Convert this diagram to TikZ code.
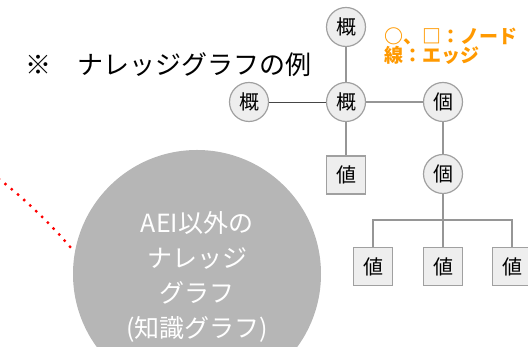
\documentclass[tikz,border=0pt]{standalone}
\usepackage{fontspec}
\setmainfont{Noto Sans CJK JP}
\usepackage{tikz}
\usetikzlibrary{calc, positioning}
\usepackage{xcolor}
\definecolor{kgline}{RGB}{150,150,150}
\definecolor{kgdark}{RGB}{70,70,70}
\definecolor{kgfill}{RGB}{238,238,238}
\definecolor{kgborder}{RGB}{160,160,160}
\definecolor{kgbig}{RGB}{182,182,182}
\definecolor{kgorange}{RGB}{255,153,0}
\definecolor{kgred}{RGB}{255,0,0}
\tikzset{
    conceptnode/.style={circle, draw=kgborder, line width=1.2pt, fill=kgfill, minimum size=39pt, inner sep=0pt, font=\fontsize{20}{20}\selectfont},
    valuebox/.style={rectangle, draw=kgborder, line width=1.2pt, fill=kgfill, minimum width=39pt, minimum height=38pt, inner sep=0pt, font=\fontsize{20}{20}\selectfont},
    edgeline/.style={draw=kgline, line width=1.3pt},
    darkedge/.style={draw=kgdark, line width=0.8pt},
    legendtext/.style={text=kgorange, font=\bfseries\fontsize{19}{18.5}\selectfont, align=left, inner sep=0pt},
    bigcircle/.style={circle, fill=kgbig, minimum size=248pt, inner sep=0pt, text=white, align=center, text depth=-12pt, font=\fontsize{25}{35}\selectfont}
}
\begin{document}
\begin{tikzpicture}[x=1pt,y=1pt]
    \useasboundingbox (0,0) rectangle (528,347);
    \clip (0,0) rectangle (528,347);
    % Title and legend
    \node[anchor=west, inner sep=0pt, font=\fontsize{26}{26}\selectfont] (title) at (25,282) {※　ナレッジグラフの例};
    \node[legendtext, anchor=west] (legend) at (384,301) {○、□：ノード\\線：エッジ};

    % Big circle
    \node[bigcircle] (aei) at (197,73) {AEI以外の\\ナレッジ\\グラフ\\(知識グラフ)};
    \coordinate (redstart) at (-1,168);
    \draw[kgred, line width=3.3pt, line cap=round, dash pattern=on 0pt off 8.2pt] (redstart) .. controls (25,148) and (55,119) .. (aei.170);

    % Graph nodes
    \node[conceptnode] (kTop)   at (346,320) {概};
    \node[conceptnode] (kLeft)  at (249,245) {概};
    \node[conceptnode] (kMid)   at (346,245) {概};
    \node[conceptnode] (iRight) at (443,245) {個};
    \node[valuebox]    (vMid)   at (346,172) {値};
    \node[conceptnode] (iLow)   at (443,173) {個};
    \node[valuebox]    (vA)     at (373,80.5) {値};
    \node[valuebox]    (vB)     at (443,80.5) {値};
    \node[valuebox]    (vC)     at (512,80.5) {値};
    \coordinate (bar) at (443,127);

    % Edges
    \draw[edgeline] (kTop) -- (kMid);
    \draw[darkedge] (kLeft) -- (kMid);
    \draw[edgeline] (kMid) -- (iRight);
    \draw[edgeline] (kMid) -- (vMid);
    \draw[edgeline] (iRight) -- (iLow);
    \draw[edgeline] (iLow) -- (vB);
    \draw[edgeline] (iLow) -- (bar) -| (vA);
    \draw[edgeline] (bar) -| (vC);
\end{tikzpicture}
\end{document}
